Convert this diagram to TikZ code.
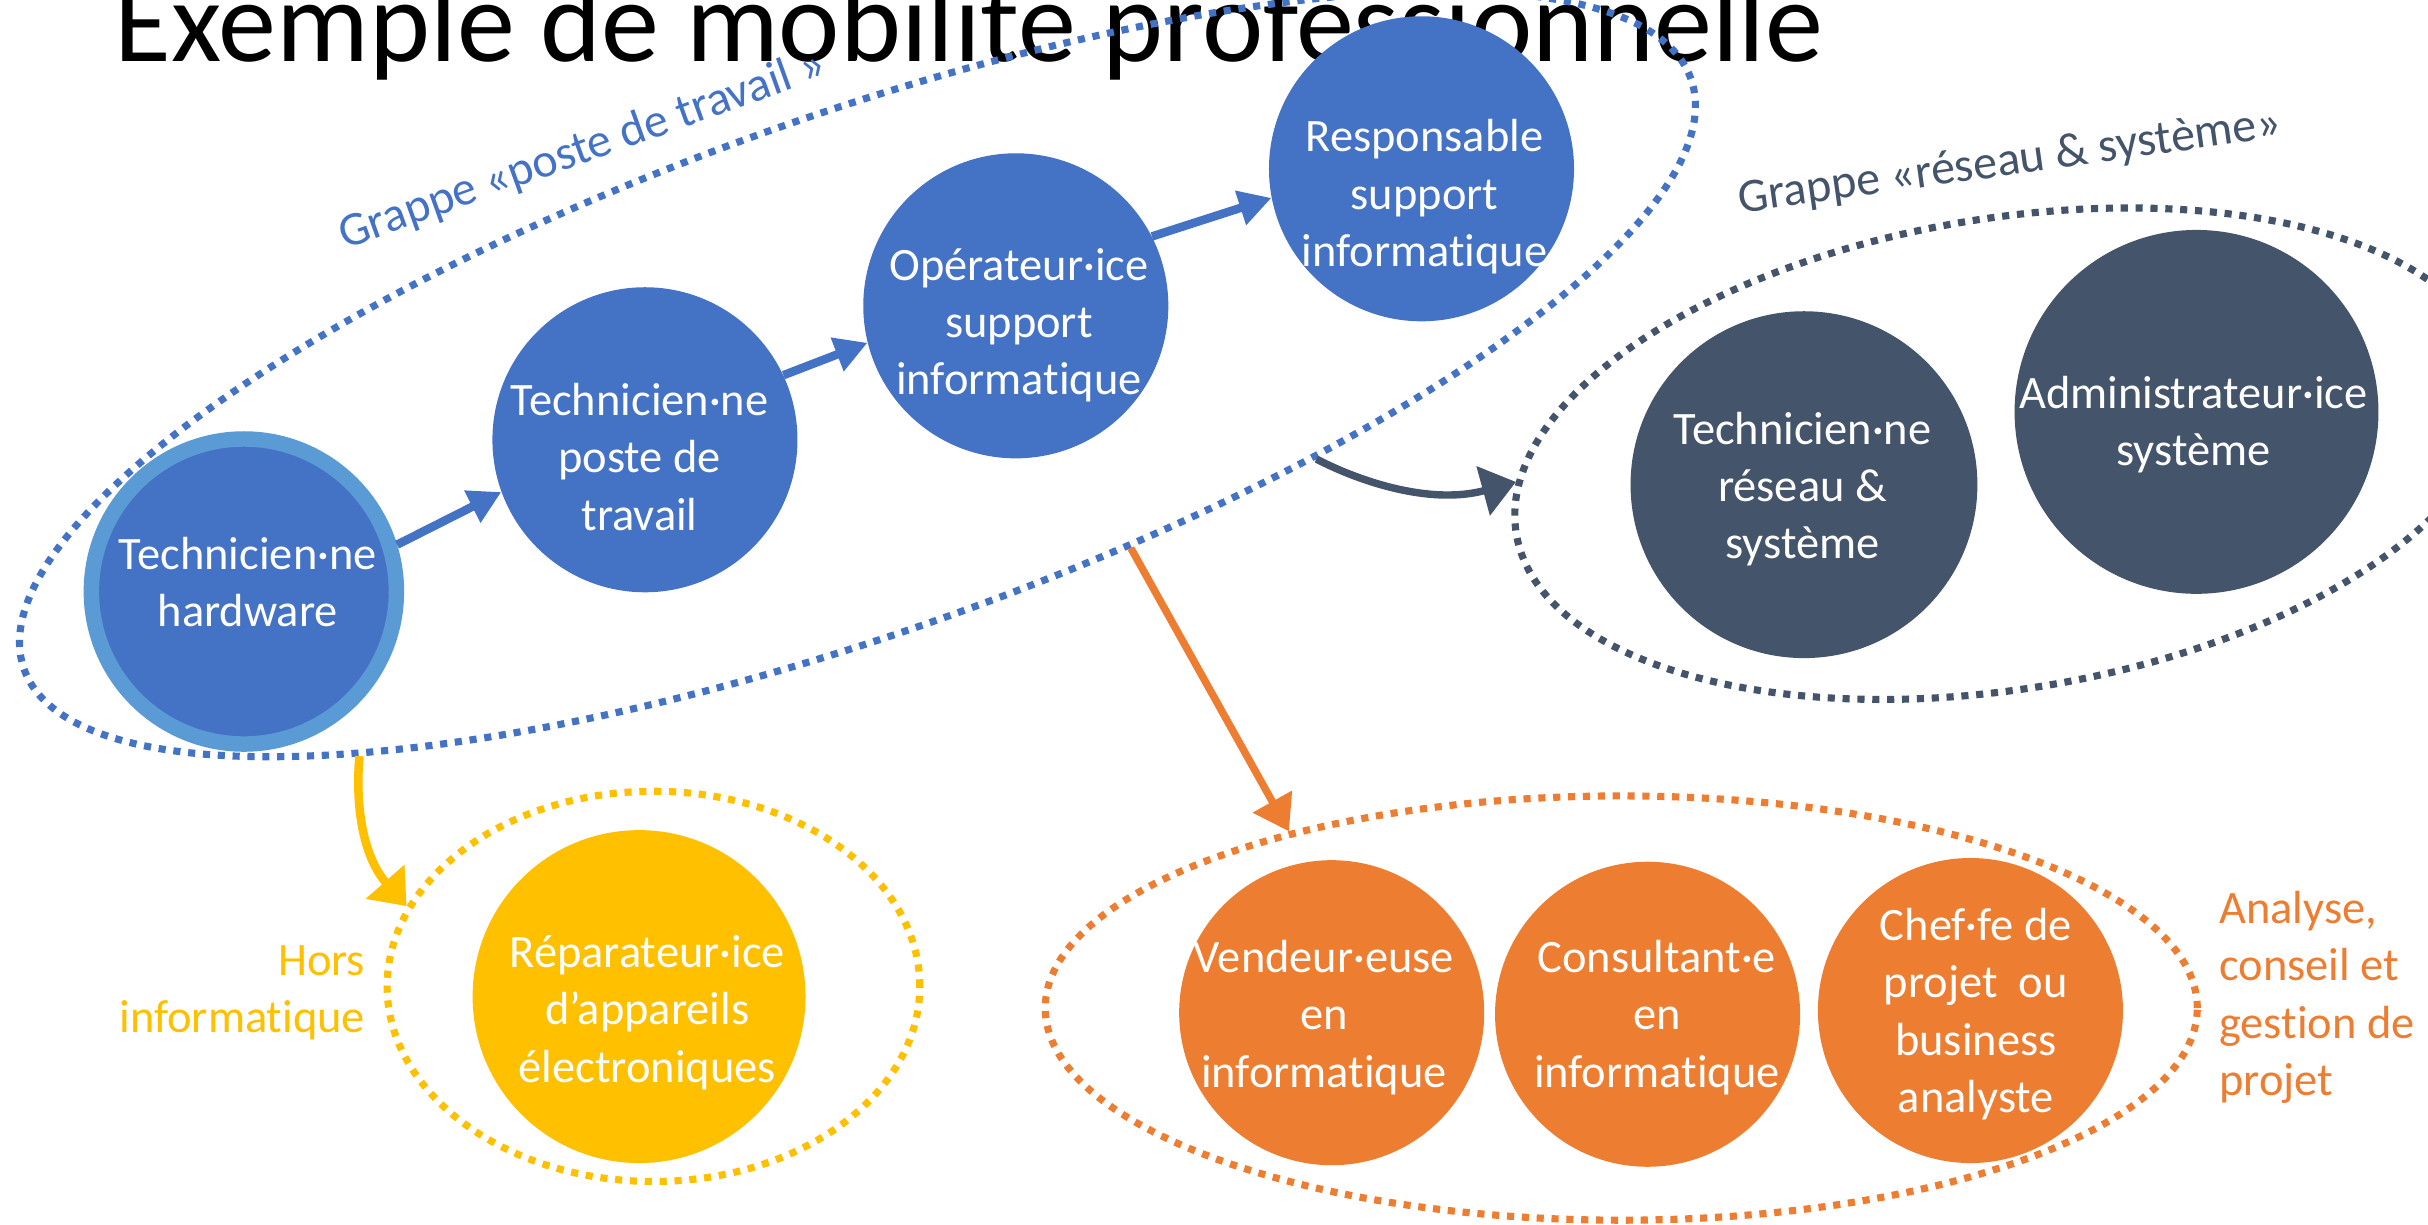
\documentclass[tikz,border=0pt]{standalone}
\usepackage{fontspec}
\setmainfont{Carlito}[Ligatures=NoCommon]
\usetikzlibrary{arrows.meta,shapes.geometric}
\definecolor{cblue}{HTML}{4472C4}
\definecolor{cring}{HTML}{5B9BD5}
\definecolor{cdark}{HTML}{44546A}
\definecolor{corange}{HTML}{ED7D31}
\definecolor{cyellow}{HTML}{FFC000}
\begin{document}
\begin{tikzpicture}[x=1pt,y=-1pt,
  job/.style={circle, minimum size=197pt, inner sep=0pt},
  jobtext/.style={text=white, align=center, font=\fontsize{30}{37}\selectfont, inner sep=0pt},
  grp/.style={ellipse, inner sep=0pt, line width=4.6pt, dash pattern=on 4.6pt off 5pt},
  lbl/.style={font=\fontsize{30}{37}\selectfont, inner sep=0pt},
  glabel/.style={font=\fontsize{31}{36}\selectfont, inner sep=0pt, anchor=base},
  flow/.style={line width=5.5pt, -{Triangle[length=21pt,width=22pt]}},
]
\useasboundingbox (0,0) rectangle (1568,791);
\fill[white] (0,0) rectangle (1568,791);

\node[anchor=base west, inner sep=0pt, font=\fontsize{75}{80}\selectfont] (title) at (74,40) {Exemple de mobilité professionnelle};

% groups
\node[grp, draw=cblue, minimum width=1142pt, minimum height=334pt, rotate=19.5] (gposte) at (553.75,241.5) {};
\node[grp, draw=cdark, minimum width=640pt, minimum height=304pt, rotate=9.3] (greseau) at (1295,293) {};
\node[grp, draw=cyellow, minimum width=344pt, minimum height=252pt] (ghors) at (422,637) {};
\node[grp, draw=corange, minimum width=744pt, minimum height=274pt] (gana) at (1047,651) {};

% jobs
\node[job, fill=cblue, draw=cring, line width=10pt] (hw) at (157.5,382) {};
\node[job, fill=cblue] (poste) at (416.5,284) {};
\node[job, fill=cblue] (op) at (656,197.5) {};
\node[job, fill=cblue] (resp) at (918,109) {};
\node[job, fill=cdark, minimum size=224pt] (reseau) at (1165,313) {};
\node[job, fill=cdark, minimum size=235pt] (admin) at (1418.5,266) {};
\node[job, fill=cyellow, minimum size=215pt] (repar) at (412.7,643.6) {};
\node[job, fill=corange] (vend) at (860,654) {};
\node[job, fill=corange] (cons) at (1064,655) {};
\node[job, fill=corange] (chef) at (1272.5,652.6) {};

\node[jobtext] (hwt) at (160,376) {Technicien·ne\\hardware};
\node[jobtext] (postet) at (413,295) {Technicien·ne\\poste de\\travail};
\node[jobtext] (opt) at (658,210) {Opérateur·ice\\support\\informatique};
\node[jobtext] (respt) at (920,127) {Responsable\\support\\informatique};
\node[jobtext] (reseaut) at (1164,316) {Technicien·ne\\réseau \&\\système};
\node[jobtext] (admint) at (1416.5,274) {Administrateur·ice\\système};
\node[jobtext] (repart) at (418,654) {Réparateur·ice\\d’appareils\\électroniques};
\node[jobtext] (vendt) at (855,657) {Vendeur·euse\\en\\informatique};
\node[jobtext] (const) at (1070,657) {Consultant·e\\en\\informatique};
\node[jobtext] (cheft) at (1276,655) {Chef·fe de\\projet~ ou\\business\\analyste};

% arrows
\draw[flow, cblue] (hw.17) -- (poste.200.6);
\draw[flow, cblue] (poste.25.5) -- (op.194);
\draw[flow, cblue] (op.27.5) -- (resp.191.6);
\draw[cdark, line width=4.8pt, -{Triangle[length=22pt,width=32pt]}] (gposte.-30.3) .. controls (880,312) and (925,326) .. (greseau.174.5);
\draw[corange, line width=4.8pt, -{Triangle[length=22pt,width=28pt]}] (gposte.-52.4) -- (gana.152);
\draw[cyellow, line width=5.5pt, -{Triangle[length=21pt,width=32pt]}] (gposte.198.3) .. controls (229,525) and (236,555) .. (ghors.162);

% labels
\node[glabel, text=cblue, rotate=19.75] (lposte) at (379,105) {Grappe «poste de travail »};
\node[glabel, text=cdark, rotate=8] (lreseau) at (1299,113) {Grappe «réseau \& système»};
\node[lbl, text=cyellow, align=right, anchor=east] (lhors) at (236,641) {Hors\\informatique};
\node[lbl, text=corange, align=left, anchor=west] (lana) at (1433,644) {Analyse,\\conseil et\\gestion de\\projet};
\end{tikzpicture}
\end{document}
